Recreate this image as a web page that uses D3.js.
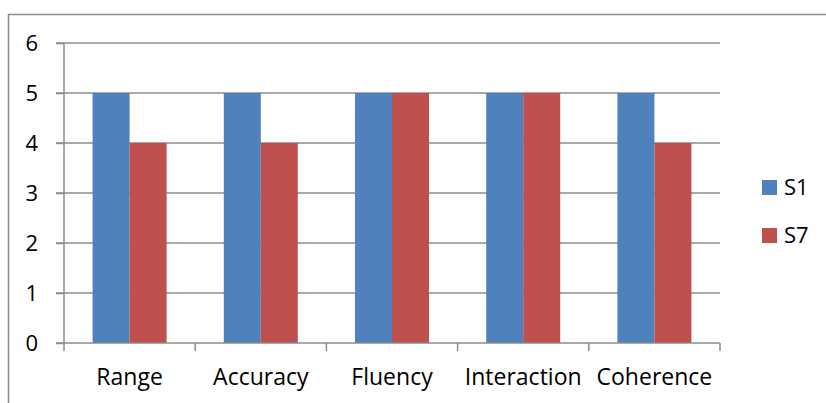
<!DOCTYPE html>
<html><head><meta charset="utf-8">
<script src="https://cdn.jsdelivr.net/npm/d3@7"></script>
<style>body{margin:0;background:#fff}svg{display:block}text{font-family:"Open Sans","Noto Sans",sans-serif;fill:#000}</style>
</head><body>
<svg id="c" width="826" height="403"></svg>
<script>
const categories = ["Range","Accuracy","Fluency","Interaction","Coherence"];
const seriesNames = ["S1","S7"];
const s1 = [5,5,5,5,5];
const s7 = [4,4,5,5,4];
const yTicks = [0,1,2,3,4,5,6];
const colors = ["#4F81BD","#C0504D"];

const svg = d3.select("#c");
// outer frame
svg.append("path").attr("d","M8.5,403 V14.5 H826").attr("fill","none").attr("stroke","#8c8c8c").attr("stroke-width",1.5);

const pLeft=64, pRight=720, pTop=43, pBottom=343;
const x = d3.scaleBand().domain(categories).range([pLeft,pRight]);
const y = d3.scaleLinear().domain([0,6]).range([pBottom,pTop]);
const x1 = d3.scaleBand().domain(seriesNames).range([0,74]);

// gridlines
svg.append("g").selectAll("line").data(yTicks.filter(d=>d>0)).join("line")
  .attr("x1",pLeft-8).attr("x2",pRight).attr("y1",d=>y(d)).attr("y2",d=>y(d))
  .attr("stroke","#8c8c8c").attr("stroke-width",1.5);

// bars
const data = categories.map((c,i)=>({c, vals:[s1[i],s7[i]]}));
const g = svg.append("g").selectAll("g").data(data).join("g")
  .attr("transform",d=>`translate(${x(d.c)+(x.bandwidth()-74)/2},0)`);
g.selectAll("rect").data(d=>d.vals.map((v,j)=>({s:seriesNames[j],v,j}))).join("rect")
  .attr("x",d=>x1(d.s)).attr("width",x1.bandwidth())
  .attr("y",d=>y(d.v)).attr("height",d=>pBottom-y(d.v))
  .attr("fill",d=>colors[d.j]);

// y axis
const yAxis = d3.axisLeft(y).tickValues(yTicks).tickFormat(d3.format("d")).tickSize(8).tickPadding(18);
const ya = svg.append("g").attr("transform",`translate(${pLeft},0)`).call(yAxis);
ya.select(".domain").attr("stroke","#8c8c8c").attr("stroke-width",1.5).attr("d",`M0,${pTop}V${pBottom}`);
ya.selectAll(".tick line").attr("stroke","#8c8c8c").attr("stroke-width",1.5);
ya.selectAll("text").attr("font-size",22).attr("font-family","'Open Sans',sans-serif").attr("fill","#000");

// x axis
const xa = svg.append("g").attr("transform",`translate(0,${pBottom})`);
xa.append("line").attr("x1",pLeft-8).attr("x2",pRight).attr("y1",0).attr("y2",0).attr("stroke","#8c8c8c").attr("stroke-width",1.5);
const edges = categories.map(c=>x(c)).concat([pRight]);
xa.selectAll("line.t").data(edges).join("line").attr("class","t")
  .attr("x1",d=>d).attr("x2",d=>d).attr("y1",0).attr("y2",8).attr("stroke","#8c8c8c").attr("stroke-width",1.5);
xa.selectAll("text").data(categories).join("text")
  .attr("x",d=>x(d)+x.bandwidth()/2).attr("y",42).attr("text-anchor","middle")
  .attr("font-size",23).text(d=>d);

// legend
const lg = svg.append("g").selectAll("g").data(seriesNames).join("g")
  .attr("transform",(d,i)=>`translate(762,${180+i*48})`);
lg.append("rect").attr("width",15).attr("height",15).attr("fill",(d,i)=>colors[i]);
lg.append("text").attr("x",22).attr("y",14.5).attr("font-size",22).text(d=>d);
</script>
</body></html>
